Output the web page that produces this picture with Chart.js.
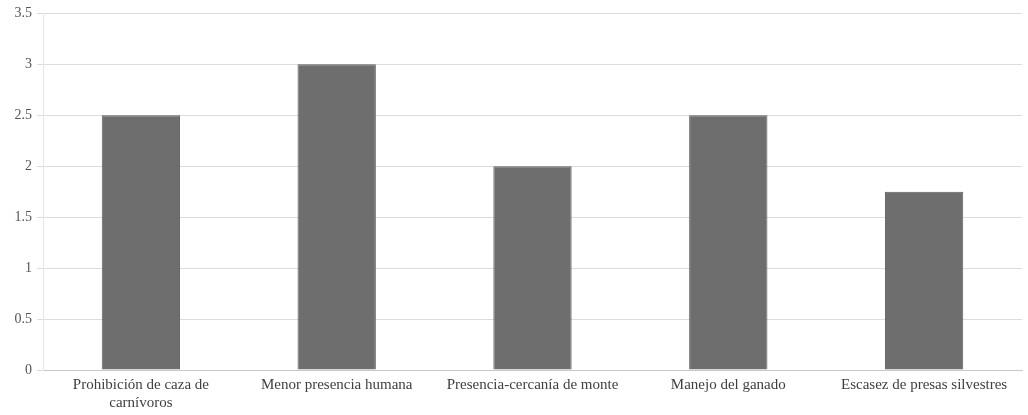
<!DOCTYPE html>
<html>
<head>
<meta charset="utf-8">
<script src="https://cdn.jsdelivr.net/npm/chart.js@4/dist/chart.umd.min.js"></script>
<style>
  html, body { margin: 0; padding: 0; background: #ffffff; }
  #wrap { width: 1028px; height: 415px; position: relative; }
</style>
</head>
<body>
<div id="wrap"><canvas id="c"></canvas></div>
<script>
// Categories (x axis) and their values
const categories = [
  ["Prohibición de caza de", "carnívoros"],
  "Menor presencia humana",
  "Presencia-cercanía de monte",
  "Manejo del ganado",
  "Escasez de presas silvestres"
];
const values = [2.5, 3, 2, 2.5, 1.75];

// Y axis range
const yMin = 0;
const yMax = 3.5;
const yStep = 0.5;

const serif = "'Liberation Serif', 'DejaVu Serif', serif";

new Chart(document.getElementById('c'), {
  type: 'bar',
  data: {
    labels: categories,
    datasets: [{
      data: values,
      backgroundColor: '#6e6e6e',
      borderColor: '#606060',
      borderWidth: 1,
      barPercentage: 0.4,
      categoryPercentage: 1.0
    }]
  },
  options: {
    responsive: true,
    maintainAspectRatio: false,
    animation: false,
    layout: { padding: { top: 9, right: 6, left: 0, bottom: 0 } },
    plugins: {
      legend: { display: false },
      tooltip: { enabled: false }
    },
    scales: {
      x: {
        grid: { display: false, drawTicks: false },
        border: { display: true, color: '#c8c8c8', width: 1 },
        ticks: {
          color: '#3f3f3f',
          font: { family: serif, size: 15, lineHeight: 1.2 },
          padding: 6,
          maxRotation: 0,
          autoSkip: false
        },
        afterFit: (s) => { s.height = 45; }
      },
      y: {
        min: yMin,
        max: yMax,
        grid: { color: '#dcdcdc', lineWidth: 1, tickLength: 6 },
        border: { display: true, color: '#e6e6e6' },
        ticks: {
          stepSize: yStep,
          color: '#555555',
          font: { family: serif, size: 14 },
          padding: 5,
          callback: (v) => String(v)
        },
        afterFit: (s) => { s.width = 43; }
      }
    }
  }
});
</script>
</body>
</html>
